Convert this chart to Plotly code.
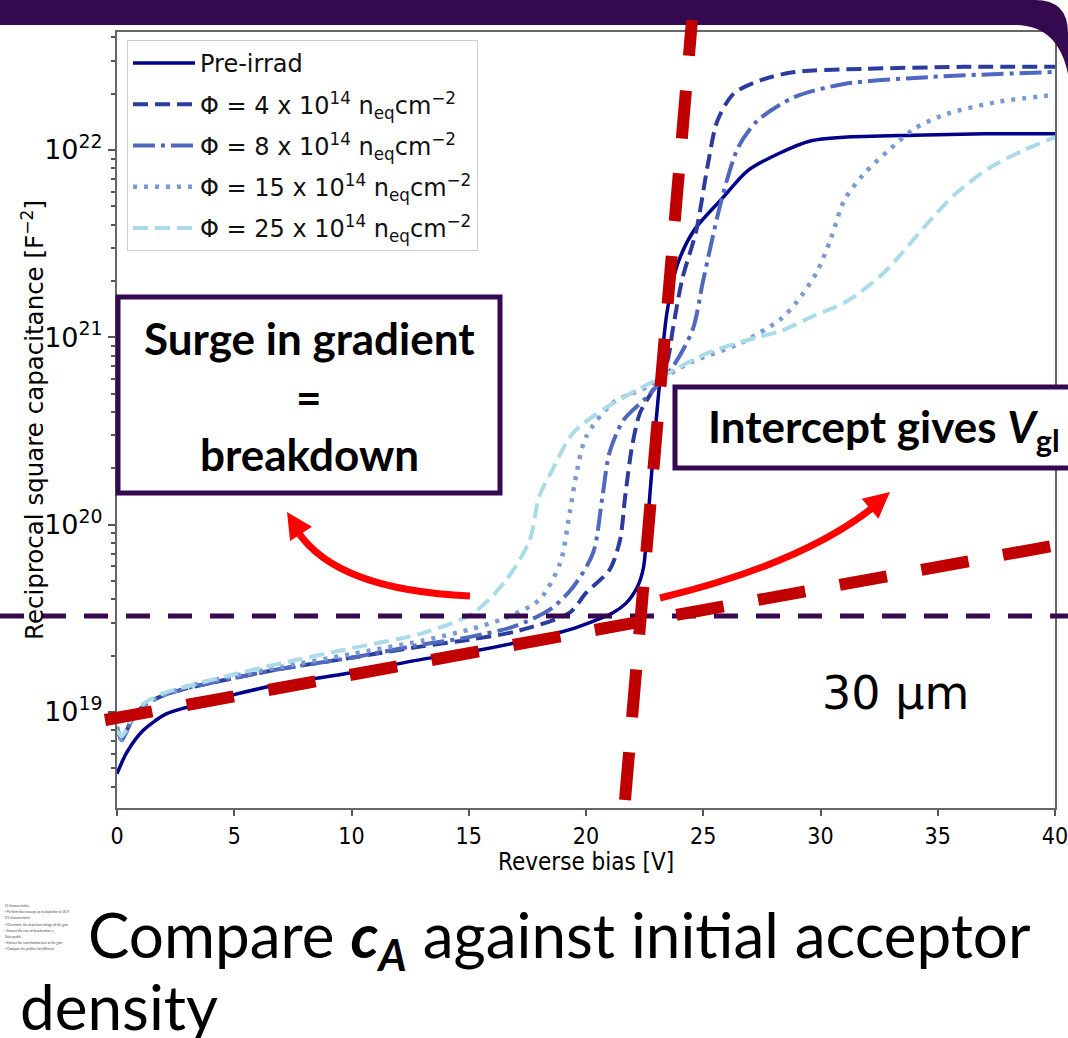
import numpy as np
import plotly.graph_objects as go

# ---------------- data ----------------
bias_pre = [0, 0.4, 1.1, 2.1, 3.1, 4.9, 7, 10, 13, 15, 17, 19.3, 21.15, 21.7, 22.2, 22.45, 22.6,
            22.73, 22.95, 23.15, 23.45, 23.9, 24.6, 25.8, 26.9, 28.2, 29.6, 31, 34, 37, 40]
c2_pre = [4.68e18, 6.03e18, 7.94e18, 9.77e18, 1.07e19, 1.23e19, 1.41e19, 1.62e19, 1.91e19, 2.09e19,
          2.34e19, 2.75e19, 3.39e19, 3.80e19, 4.68e19, 5.89e19, 9.12e19, 1.48e20, 3.16e20, 5.89e20,
          1.35e21, 2.45e21, 3.72e21, 5.50e21, 7.76e21, 9.55e21, 1.12e22, 1.17e22, 1.20e22, 1.22e22, 1.22e22]

bias_f4 = [0, 0.2, 0.6, 1.1, 2, 3.1, 4.9, 7, 10, 13, 15, 17, 19.3, 20.0, 21.0, 21.45, 21.67, 21.96,
           22.3, 22.86, 23.45, 23.7, 24.1, 24.7, 25.2, 25.6, 26.3, 27.5, 28.9, 31.8, 36.1, 40]
c2_f4 = [8.32e18, 7.08e18, 8.91e18, 1.07e19, 1.23e19, 1.35e19, 1.51e19, 1.70e19, 1.95e19, 2.24e19,
         2.43e19, 2.69e19, 3.39e19, 4.32e19, 5.73e19, 8.28e19, 1.41e20, 2.60e20, 3.94e20, 5.25e20,
         7.29e20, 1.10e21, 2.04e21, 3.70e21, 8.43e21, 1.43e22, 2.00e22, 2.37e22, 2.61e22, 2.71e22,
         2.78e22, 2.78e22]

bias_f8 = [0, 0.2, 0.6, 1.1, 2, 3.1, 4.9, 7, 10, 13, 15, 17, 18.5, 19.45, 20.3, 20.7, 21.0, 21.6,
           22.6, 23.7, 24.55, 25.0, 25.8, 26.5, 27.3, 28.9, 31.0, 34.6, 40]
c2_f8 = [8.32e18, 7.08e18, 8.91e18, 1.07e19, 1.23e19, 1.35e19, 1.51e19, 1.70e19, 1.95e19, 2.29e19,
         2.51e19, 2.88e19, 3.55e19, 4.65e19, 7.06e19, 1.41e20, 2.42e20, 3.62e20, 4.81e20, 6.95e20,
         1.10e21, 2.02e21, 5.55e21, 1.04e22, 1.43e22, 1.92e22, 2.25e22, 2.45e22, 2.61e22]

bias_f15 = [0, 0.2, 0.6, 1.1, 2, 3.1, 4.9, 7, 10, 13, 15, 16.5, 18.0, 18.9, 19.3, 19.6, 20.0, 21.15,
            22.6, 24.4, 26.6, 28.3, 29.0, 29.85, 30.45, 31.0, 31.85, 33.0, 34.0, 35.4, 37.6, 40]
c2_f15 = [8.32e18, 7.08e18, 8.91e18, 1.07e19, 1.23e19, 1.38e19, 1.55e19, 1.74e19, 2.04e19, 2.40e19,
          2.75e19, 3.16e19, 3.96e19, 6.25e19, 1.15e20, 1.89e20, 2.94e20, 4.47e20, 5.43e20, 7.29e20,
          9.33e20, 1.25e21, 1.55e21, 2.24e21, 3.39e21, 5.35e21, 7.45e21, 1.02e22, 1.30e22, 1.56e22,
          1.81e22, 1.97e22]

bias_f25 = [0, 0.2, 0.6, 1.1, 2, 3.1, 4.9, 7, 10, 13, 15.2, 16.6, 17.6, 18.0, 18.5, 19.45, 20.9, 23.0,
            25.2, 27.3, 28.3, 29.7, 31.1, 32.6, 33.4, 34.5, 35.7, 37.2, 38.6, 40]
c2_f25 = [7.94e18, 7.41e18, 9.12e18, 1.10e19, 1.26e19, 1.38e19, 1.58e19, 1.82e19, 2.19e19, 2.63e19,
          3.38e19, 5.07e19, 8.28e19, 1.41e20, 1.89e20, 3.09e20, 4.25e20, 5.93e20, 8.26e20, 1.00e21,
          1.08e21, 1.30e21, 1.55e21, 2.15e21, 2.75e21, 3.98e21, 5.75e21, 8.02e21, 9.89e21, 1.17e22]

series_names = ["Pre-irrad",
                "\u03a6 = 4 x 10<sup>14</sup> n<sub>eq</sub>cm<sup>\u22122</sup>",
                "\u03a6 = 8 x 10<sup>14</sup> n<sub>eq</sub>cm<sup>\u22122</sup>",
                "\u03a6 = 15 x 10<sup>14</sup> n<sub>eq</sub>cm<sup>\u22122</sup>",
                "\u03a6 = 25 x 10<sup>14</sup> n<sub>eq</sub>cm<sup>\u22122</sup>"]

x_ticks = [0, 5, 10, 15, 20, 25, 30, 35, 40]
y_ticks = [1e19, 1e20, 1e21, 1e22]
y_ticktext = ["10<sup>19</sup>", "10<sup>20</sup>", "10<sup>21</sup>", "10<sup>22</sup>"]
y_minor = [m * 10.0 ** e for e in range(18, 23) for m in range(2, 10)]

# ---------------- layout geometry ----------------
W, H = 1068, 1038
ML, MR, MT, MB = 117, 13, 32, 230
PW, PH = W - ML - MR, H - MT - MB


def px(x):
    return (x - ML) / PW


def py(y):
    return (H - MB - y) / PH


PURPLE = "#35094f"
DARKRED = "#c00000"
RED = "#ff0000"

styles = [
    dict(color="#00008b", width=3.5, dash="solid"),
    dict(color="#2b3c9e", width=4, dash="15px,7px"),
    dict(color="#5068bd", width=4, dash="22px,6px,4px,6px"),
    dict(color="#7b9ad3", width=4.5, dash="4px,7px"),
    dict(color="#a9dbe8", width=4, dash="15px,7px"),
]
xs = [bias_pre, bias_f4, bias_f8, bias_f15, bias_f25]
ys = [c2_pre, c2_f4, c2_f8, c2_f15, c2_f25]

fig = go.Figure()
for i, (name, st, x, y) in enumerate(zip(series_names, styles, xs, ys)):
    fig.add_trace(go.Scatter(x=x, y=y, mode="lines", name=name, legendgroup="g%d" % i,
                             line=dict(color=st["color"], width=st["width"], dash=st["dash"],
                                       shape="spline", smoothing=0.8)))

shapes = []
# top slide band
path = "M %f,%f L %f,%f Q %f,%f %f,%f L %f,%f Q %f,%f %f,%f L %f,%f Z" % (
    px(0), py(0), px(1035), py(0), px(1068), py(0), px(1068), py(33),
    px(1068), py(74), px(1058), py(25), px(1015), py(25), px(0), py(25))
shapes.append(dict(type="path", path=path, xref="paper", yref="paper",
                   fillcolor=PURPLE, line=dict(width=0), layer="above"))

# horizontal purple dashed line
shapes.append(dict(type="line", xref="paper", yref="paper", x0=px(0), x1=px(1068), y0=py(616), y1=py(616),
                   line=dict(color=PURPLE, width=5, dash="24px,18px"), layer="above"))
# red dashed fit lines
shapes.append(dict(type="line", xref="paper", yref="paper", x0=px(105), y0=py(720), x1=px(1068), y1=py(543),
                   line=dict(color=DARKRED, width=12, dash="48px,35px"), layer="above"))
shapes.append(dict(type="line", xref="paper", yref="paper", x0=px(625), y0=py(800), x1=px(692), y1=py(20),
                   line=dict(color=DARKRED, width=12, dash="48px,35px"), layer="above"))


def arrow(p0, c, p1, tip):
    s = []
    s.append(dict(type="path", xref="paper", yref="paper", layer="above",
                  path="M %f,%f Q %f,%f %f,%f" % (px(p0[0]), py(p0[1]), px(c[0]), py(c[1]), px(p1[0]), py(p1[1])),
                  line=dict(color=RED, width=7)))
    d = np.array(tip, float) - np.array(c, float)
    d = d / np.linalg.norm(d)
    n = np.array([-d[1], d[0]])
    base = np.array(tip, float) - d * 26
    a = base + n * 13
    b = base - n * 13
    s.append(dict(type="path", xref="paper", yref="paper", layer="above",
                  path="M %f,%f L %f,%f L %f,%f Z" % (px(tip[0]), py(tip[1]), px(a[0]), py(a[1]), px(b[0]), py(b[1])),
                  fillcolor=RED, line=dict(width=0)))
    return s


shapes += arrow((470, 596), (337, 590), (298, 532), (287, 512))
shapes += arrow((660, 598), (805, 563), (876, 505), (890, 492))

# text boxes
shapes.append(dict(type="rect", xref="paper", yref="paper", x0=px(118), x1=px(500), y0=py(297), y1=py(493),
                   fillcolor="white", line=dict(color=PURPLE, width=5), layer="above"))
shapes.append(dict(type="rect", xref="paper", yref="paper", x0=px(675), x1=px(1080), y0=py(387), y1=py(468),
                   fillcolor="white", line=dict(color=PURPLE, width=5), layer="above"))

SLIDE_FONT = "Lato, Open Sans, sans-serif"
ann = []


def text(x, y, t, size, bold=False, anchor="center", color="black", family=SLIDE_FONT, angle=0):
    ann.append(dict(x=px(x), y=py(y), xref="paper", yref="paper", text=("<b>%s</b>" % t) if bold else t,
                    showarrow=False, xanchor=anchor, yanchor="middle", textangle=angle,
                    font=dict(family=family, size=size, color=color)))


text(309, 338, "Surge in gradient", 44, bold=True)
text(309, 397, "=", 44, bold=True)
text(309, 454, "breakdown", 44, bold=True)
text(884, 430, "Intercept gives <i>V</i><sub>gl</sub>", 44, bold=True)
text(895, 693, "30 \u00b5m", 46, family="DejaVu Sans")
text(86, 938, "Compare <b><i>c<sub>A</sub></i></b> against initial acceptor", 62, anchor="left")
text(18, 1006, "density", 62, anchor="left")

# axis titles
text(33, 420, "Reciprocal square capacitance [F<sup>\u22122</sup>]", 24.5, family="DejaVu Sans", angle=-90)
text(586, 862, "Reverse bias [V]", 24, family="DejaVu Sans Condensed, DejaVu Sans")

tiny = ["IV characteristics", "\u25aa Perform bias sweeps up to depletion at 20 V",
        "CV characteristics", "\u25aa Determine the depletion voltage of the gain",
        "\u25aa Extract the rate of deactivation, c<sub>A</sub>", "Gain profile",
        "\u25aa Extract the contribution due to the gain", "\u25aa Compare the profiles for different"]
for i, t in enumerate(tiny):
    text(3, 906 + i * 6.2, t, 3.2, anchor="left", color="#444")

fig.update_layout(
    width=W, height=H,
    margin=dict(l=ML, r=MR, t=MT, b=MB, autoexpand=False),
    paper_bgcolor="white", plot_bgcolor="white",
    font=dict(family="DejaVu Sans", color="black"),
    shapes=shapes, annotations=ann,
    legend=dict(x=px(127), y=py(40), xanchor="left", yanchor="top",
                bgcolor="white", bordercolor="#cccccc", borderwidth=1,
                font=dict(family="DejaVu Sans", size=24, color="#111"),
                itemwidth=62, tracegroupgap=7),
    showlegend=True,
)
fig.update_xaxes(range=[0, 40], tickvals=x_ticks, ticks="outside", ticklen=6, tickwidth=1.5,
                 tickcolor="#555", showline=True, linecolor="#666", linewidth=2, mirror=True,
                 showgrid=False, zeroline=False, ticklabeloverflow="allow",
                 tickfont=dict(family="DejaVu Sans Condensed, DejaVu Sans", size=23))
fig.update_yaxes(type="log", range=[18.4875, 22.63], tickvals=y_ticks, ticktext=y_ticktext,
                 ticks="outside", ticklen=7, tickwidth=1.5, tickcolor="#555",
                 minor=dict(tickvals=y_minor, ticks="outside", ticklen=4, tickcolor="#555", showgrid=False),
                 showline=True, linecolor="#666", linewidth=2, mirror=True,
                 showgrid=False, zeroline=False,
                 tickfont=dict(family="DejaVu Sans", size=27))

fig.write_html("out.html", config={"displayModeBar": False},
               post_script="document.body.style.margin='0px';document.body.style.overflow='hidden';")
